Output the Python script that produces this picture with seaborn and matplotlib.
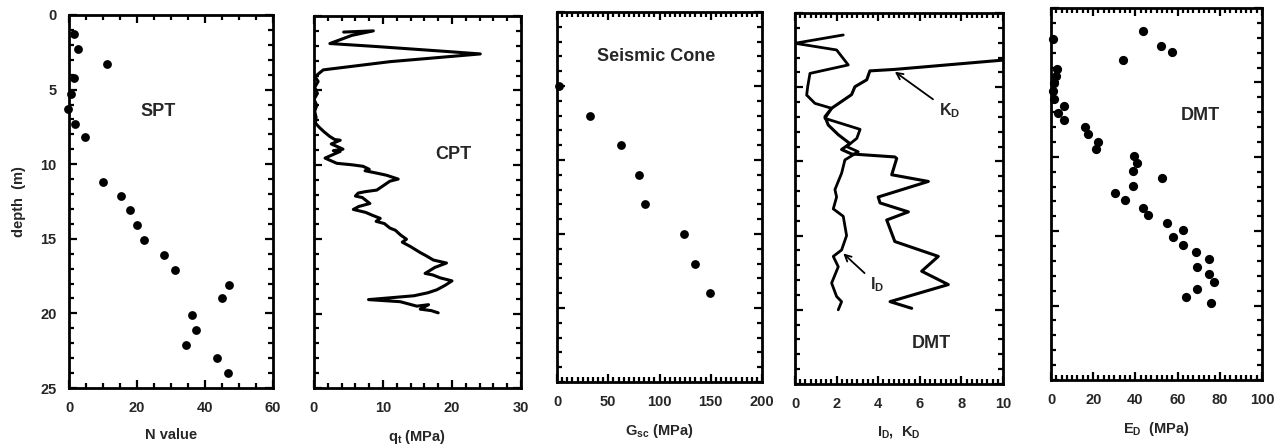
import numpy as np
import pandas as pd
import matplotlib
matplotlib.use("Agg")
import matplotlib.pyplot as plt
from matplotlib.ticker import MultipleLocator
import seaborn as sns

# ---------------- data ----------------
spt_depth = [1.3, 2.3, 3.3, 4.2, 5.3, 6.3, 7.3, 8.2, 11.2, 12.1, 13.1, 14.1, 15.1,
             16.1, 17.1, 18.1, 19.0, 20.1, 21.1, 22.1, 23.0, 24.0]
spt_n = [1.5, 2.5, 11.3, 1.5, 0.5, -0.2, 1.8, 4.8, 9.9, 15.2, 18.0, 20.0, 22.2,
         28.0, 31.2, 47.0, 45.0, 36.2, 37.4, 34.4, 43.5, 46.7]

cpt_depth = [1.08, 1.0, 1.3, 1.85, 2.05, 2.4, 2.55, 3.07, 3.62, 4.07, 4.4, 4.8, 5.2, 5.6,
             6.0, 6.4, 6.8, 7.2, 7.5, 7.8, 8.1, 8.3, 8.35, 8.6, 8.8, 8.95, 9.05, 9.1,
             9.55, 9.9, 10.0, 10.1, 10.3, 10.4, 10.56, 10.7, 10.96, 11.1, 11.7, 11.8,
             11.9, 12.1, 12.2, 12.6, 12.8, 13.0, 13.2, 13.4, 13.6, 13.8, 13.95, 14.25,
             14.4, 14.7, 15.0, 15.2, 15.5, 15.9, 16.1, 16.4, 16.6, 16.9, 17.3, 17.4,
             17.6, 17.8, 18.1, 18.4, 18.6, 18.8, 18.9, 19.06, 19.2, 19.5, 19.4, 19.7,
             19.8, 19.95]
cpt_qt = [4.3, 8.6, 5.5, 2.3, 9.0, 19.7, 24.1, 11.0, 1.35, 0.15, 0.6, 0.1, 0.5, 0.0,
          0.4, 0.1, 0.3, 0.2, 0.8, 1.5, 2.3, 3.0, 3.8, 2.5, 3.5, 4.2, 2.8, 3.8,
          1.6, 3.3, 5.5, 7.1, 8.0, 7.4, 9.1, 10.5, 12.2, 11.0, 9.1, 7.5,
          6.4, 6.0, 7.0, 8.1, 6.5, 5.7, 7.5, 8.5, 9.6, 9.0, 10.2, 11.0,
          11.8, 12.5, 13.4, 12.8, 14.0, 15.4, 16.2, 17.3, 19.2, 17.5, 16.1, 17.2,
          18.3, 20.0, 19.0, 17.8, 16.5, 14.5, 12.0, 7.9, 12.5, 14.9, 16.6, 15.4,
          17.0, 18.0]

scpt_depth = [5, 7, 9, 11, 13, 15, 17, 19]
scpt_gsc = [1.6, 31.8, 62.3, 80.1, 85.9, 123.8, 134.5, 149.4]

id_depth = [1.48, 2.04, 2.49, 3.5, 4.07, 4.97, 5.53, 6.09, 6.42, 7.1, 7.84, 8.45, 9.0,
            9.35, 9.9, 10.8, 11.9, 12.4, 13.2, 13.7, 15.0, 15.97, 16.4, 17.1, 18.2,
            19.1, 19.45, 20.0]
id_val = [2.32, 0.0, 2.0, 2.56, 0.72, 0.61, 0.56, 0.96, 1.76, 1.44, 3.13, 2.97, 2.48,
          3.04, 2.4, 2.24, 1.92, 2.0, 1.84, 2.32, 2.48, 2.24, 1.84, 2.08, 1.76,
          2.0, 2.24, 2.08]

kd_depth = [1.97, 3.8, 3.9, 4.5, 4.97, 5.5, 6.42, 6.99, 7.55, 8.2, 8.8, 9.2, 9.5, 9.7,
            9.8, 10.9, 11.35, 12.4, 12.8, 13.4, 13.95, 15.4, 16.4, 17.4, 18.3, 19.45, 19.9]
kd_val = [20.0, 4.8, 3.6, 3.45, 2.88, 2.72, 1.76, 1.44, 1.6, 2.08, 2.64, 2.24, 2.72, 4.8,
          4.89, 4.65, 6.41, 4.0, 4.09, 5.45, 4.41, 4.8, 6.89, 6.09, 7.37, 4.57, 5.61]

ed_depth = [2.1, 1.55, 2.53, 2.98, 3.49, 4.1, 4.57, 5.06, 5.56, 6.1, 6.56, 7.08, 7.53,
            8.02, 8.49, 8.98, 9.5, 9.95, 10.44, 10.95, 11.4, 11.94, 12.45, 12.9, 13.44,
            13.91, 14.43, 14.92, 15.41, 15.93, 16.42, 16.87, 17.43, 17.88, 18.39, 18.88,
            19.4, 19.85]
ed_val = [0.8, 43.7, 52.1, 57.2, 34.0, 3.0, 2.4, 1.4, 1.1, 1.6, 6.2, 3.5, 6.2,
          16.1, 17.7, 22.2, 21.4, 39.3, 40.9, 39.0, 52.6, 38.7, 30.3, 35.1, 43.7,
          46.1, 55.1, 62.7, 58.0, 62.7, 68.6, 74.9, 69.3, 74.9, 77.3, 69.0,
          63.9, 75.6]

# ---------------- style ----------------
sns.set_style("ticks")
plt.rcParams["font.family"] = ["Liberation Sans", "DejaVu Sans"]
plt.rcParams["font.weight"] = "bold"
plt.rcParams["mathtext.fontset"] = "custom"
plt.rcParams["mathtext.rm"] = "Liberation Sans:bold"
plt.rcParams["mathtext.bf"] = "Liberation Sans:bold"
plt.rcParams["mathtext.it"] = "Liberation Sans:bold"
plt.rcParams["mathtext.default"] = "bf"

W, H = 1284, 448
fig = plt.figure(figsize=(W / 100, H / 100), dpi=100)

def make_ax(l, r, t, b):
    return fig.add_axes([l / W, 1 - b / H, (r - l) / W, (b - t) / H])

axes = [
    make_ax(69, 273, 15, 388),
    make_ax(314, 521, 16, 388),
    make_ax(557, 762, 12, 382),
    make_ax(795, 1003, 13, 384),
    make_ax(1051, 1262, 8, 380),
]

xlims = [(0, 60), (0, 30), (0, 200), (0, 10), (0, 100)]
xmaj = [20, 10, 50, 2, 20]
xmin = [5, 2, 5, 0.25, 2.5]
xlabels = ["N value", "q$_\\mathbf{t}$ (MPa)", "G$_\\mathbf{sc}$ (MPa)",
           "I$_\\mathbf{D}$,  K$_\\mathbf{D}$", "E$_\\mathbf{D}$  (MPa)"]

FS = 10.5
TFS = 13
for i, ax in enumerate(axes):
    ax.set_xlim(*xlims[i])
    ax.set_ylim(25, 0)
    ax.xaxis.set_major_locator(MultipleLocator(xmaj[i]))
    ax.xaxis.set_minor_locator(MultipleLocator(xmin[i]))
    ax.yaxis.set_major_locator(MultipleLocator(5))
    ax.yaxis.set_minor_locator(MultipleLocator(1))
    ax.tick_params(which="both", direction="in", top=True, right=True,
                   width=1.6, color="black", labelsize=FS, pad=9)
    ax.tick_params(which="major", length=6)
    ax.tick_params(which="minor", length=3.5)
    for s in ax.spines.values():
        s.set_linewidth(2.0)
        s.set_color("black")
    for lab in ax.get_xticklabels() + ax.get_yticklabels():
        lab.set_fontweight("bold")
    ax.set_xlabel(xlabels[i], fontsize=FS, fontweight="bold", labelpad=10)
    if i == 0:
        ax.set_ylabel("depth  (m)", fontsize=FS, fontweight="bold", labelpad=10)
    else:
        ax.set_yticklabels([])
        ax.set_ylabel("")

# panel 1 : SPT
sns.scatterplot(x=spt_n, y=spt_depth, ax=axes[0], color="black", s=40,
                edgecolor="black", linewidth=0, clip_on=False)
axes[0].text(26.3, 6.5, "SPT", fontsize=TFS, fontweight="bold", ha="center", va="center")

# panel 2 : CPT
sns.lineplot(x=cpt_qt, y=cpt_depth, ax=axes[1], sort=False, estimator=None,
             color="black", linewidth=2.2)
axes[1].text(20.2, 9.3, "CPT", fontsize=TFS, fontweight="bold", ha="center", va="center")

# panel 3 : Seismic cone
sns.scatterplot(x=scpt_gsc, y=scpt_depth, ax=axes[2], color="black", s=40,
                edgecolor="black", linewidth=0, clip_on=False)
axes[2].text(96.7, 3.0, "Seismic Cone", fontsize=TFS, fontweight="bold",
             ha="center", va="center")

# panel 4 : DMT ID, KD
sns.lineplot(x=id_val, y=id_depth, ax=axes[3], sort=False, estimator=None,
             color="black", linewidth=2.0)
sns.lineplot(x=kd_val, y=kd_depth, ax=axes[3], sort=False, estimator=None,
             color="black", linewidth=2.2)
axes[3].set_xlim(0, 10)
axes[3].annotate("K$_\\mathbf{D}$", xy=(4.8, 3.96), xytext=(6.9, 6.6),
                 fontsize=FS + 1, fontweight="bold", ha="left", va="center",
                 arrowprops=dict(arrowstyle="->", color="black", lw=1.3,
                                 shrinkA=2, shrinkB=0))
axes[3].annotate("I$_\\mathbf{D}$", xy=(2.32, 16.2), xytext=(3.6, 18.3),
                 fontsize=FS + 1, fontweight="bold", ha="left", va="center",
                 arrowprops=dict(arrowstyle="->", color="black", lw=1.3,
                                 shrinkA=2, shrinkB=0))
axes[3].text(6.57, 22.3, "DMT", fontsize=TFS, fontweight="bold", ha="center", va="center")

# panel 5 : ED
sns.scatterplot(x=ed_val, y=ed_depth, ax=axes[4], color="black", s=44,
                edgecolor="black", linewidth=0, clip_on=False)
axes[4].text(70.6, 7.2, "DMT", fontsize=TFS, fontweight="bold", ha="center", va="center")

fig.savefig("out.png", dpi=100, facecolor="white")
